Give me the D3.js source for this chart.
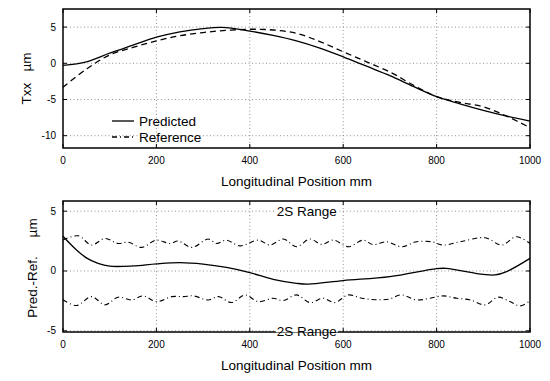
<!DOCTYPE html>
<html>
<head>
<meta charset="utf-8">
<script src="https://cdn.jsdelivr.net/npm/d3@7"></script>
<style>
  body { margin: 0; background: #fff; }
  text { font-family: "Liberation Sans", Arial, Helvetica, sans-serif; fill: #000; }
</style>
</head>
<body>
<div id="chart"></div>
<script>
// x positions (mm) and values
var xTicks = [0, 200, 400, 600, 800, 1000];
var topYTicks = [5, 0, -5, -10];
var botYTicks = [5, 0, -5];

var predX = [0, 50, 100, 150, 200, 250, 300, 340, 400, 450, 500, 550, 600, 650, 700, 750, 800, 850, 900, 950, 1000];
var predY = [-0.3, 0.2, 1.4, 2.5, 3.6, 4.35, 4.8, 4.95, 4.45, 3.85, 3.1, 2.1, 0.9, -0.4, -1.7, -3.2, -4.6, -5.6, -6.5, -7.3, -8.0];

var refX = [0, 50, 100, 150, 200, 250, 300, 350, 400, 450, 500, 550, 600, 650, 700, 750, 800, 850, 900, 950, 1000];
var refY = [-3.3, -0.8, 1.15, 2.2, 3.1, 3.8, 4.25, 4.55, 4.7, 4.6, 4.15, 3.0, 1.6, 0.2, -1.2, -3.0, -4.6, -5.4, -6.0, -7.3, -8.9];

var diffX = [0, 25, 50, 75, 100, 150, 200, 250, 300, 350, 400, 450, 500, 525, 600, 700, 800, 820, 900, 925, 950, 1000];
var diffY = [2.9, 1.9, 1.1, 0.64, 0.4, 0.42, 0.6, 0.7, 0.58, 0.3, -0.13, -0.7, -1.03, -1.1, -0.8, -0.47, 0.2, 0.22, -0.28, -0.33, -0.05, 1.05];

var upX = [0, 33, 61, 90, 118, 140, 168, 200, 229, 247, 276, 311, 329, 350, 379, 418, 443, 472, 500, 529, 554, 579, 611, 643, 664, 693, 725, 757, 790, 814, 850, 904, 939, 971, 1000];
var upY = [2.6, 2.94, 2.17, 2.72, 2.3, 2.4, 1.97, 2.58, 2.3, 2.5, 1.97, 2.67, 2.3, 2.58, 2.1, 2.58, 2.17, 2.67, 2.03, 2.67, 2.22, 2.58, 2.03, 2.58, 2.2, 2.44, 2.03, 2.44, 2.44, 2.17, 2.44, 2.78, 2.17, 2.86, 2.3];

var lowX = [0, 29, 61, 90, 118, 147, 172, 200, 233, 258, 279, 311, 333, 361, 390, 418, 450, 472, 500, 529, 557, 582, 611, 640, 668, 697, 725, 757, 786, 814, 843, 872, 904, 932, 957, 979, 1000];
var lowY = [-2.4, -2.89, -2.14, -2.83, -2.19, -2.42, -2.08, -2.56, -2.14, -2.14, -2.08, -2.42, -2.14, -2.64, -2.0, -2.56, -2.28, -2.47, -2.0, -2.64, -2.28, -2.64, -2.0, -2.28, -2.4, -2.36, -2.0, -2.42, -2.28, -2.08, -2.28, -2.42, -2.83, -2.19, -2.56, -2.92, -2.5];

var legendNames = ['Predicted', 'Reference'];

var width = 550, height = 381;
var svg = d3.select('#chart').append('svg')
  .attr('width', width).attr('height', height);

var x = d3.scaleLinear().domain([0, 1000]).range([63, 530]);

function zip(xs, ys) {
  return xs.map(function(v, i) { return [v, ys[i]]; });
}

// draws one panel frame with grid, ticks and labels, returns the y scale
function drawPanel(top, bottom, domain, yTicks) {
  var y = d3.scaleLinear().domain(domain).range([bottom, top]);
  var g = svg.append('g');

  // dotted grid
  g.selectAll('.vgrid').data(xTicks.slice(1, -1)).enter().append('line')
    .attr('x1', function(d) { return x(d); }).attr('x2', function(d) { return x(d); })
    .attr('y1', top).attr('y2', bottom)
    .attr('stroke', '#777').attr('stroke-width', 0.8).attr('stroke-dasharray', '1,2.5');
  g.selectAll('.hgrid').data(yTicks).enter().append('line')
    .attr('x1', x(0)).attr('x2', x(1000))
    .attr('y1', function(d) { return y(d); }).attr('y2', function(d) { return y(d); })
    .attr('stroke', '#777').attr('stroke-width', 0.8).attr('stroke-dasharray', '1,2.5');

  // inward ticks on all four sides
  var tl = 4;
  g.selectAll('.xtb').data(xTicks).enter().append('line')
    .attr('x1', function(d) { return x(d); }).attr('x2', function(d) { return x(d); })
    .attr('y1', bottom).attr('y2', bottom - tl).attr('stroke', '#000');
  g.selectAll('.xtt').data(xTicks).enter().append('line')
    .attr('x1', function(d) { return x(d); }).attr('x2', function(d) { return x(d); })
    .attr('y1', top).attr('y2', top + tl).attr('stroke', '#000');
  g.selectAll('.ytl').data(yTicks).enter().append('line')
    .attr('x1', x(0)).attr('x2', x(0) + tl)
    .attr('y1', function(d) { return y(d); }).attr('y2', function(d) { return y(d); }).attr('stroke', '#000');
  g.selectAll('.ytr').data(yTicks).enter().append('line')
    .attr('x1', x(1000)).attr('x2', x(1000) - tl)
    .attr('y1', function(d) { return y(d); }).attr('y2', function(d) { return y(d); }).attr('stroke', '#000');

  g.append('rect')
    .attr('x', x(0)).attr('y', top)
    .attr('width', x(1000) - x(0)).attr('height', bottom - top)
    .attr('fill', 'none').attr('stroke', '#000').attr('stroke-width', 1.5);

  // tick labels
  g.selectAll('.xl').data(xTicks).enter().append('text')
    .attr('x', function(d) { return x(d); }).attr('y', bottom + 16)
    .attr('text-anchor', 'middle').attr('font-size', 10)
    .text(function(d) { return d; });
  g.selectAll('.yl').data(yTicks).enter().append('text')
    .attr('x', x(0) - 7).attr('y', function(d) { return y(d) + 3.5; })
    .attr('text-anchor', 'end').attr('font-size', 10)
    .text(function(d) { return d; });

  g.append('text')
    .attr('x', (x(0) + x(1000)) / 2).attr('y', bottom + 38)
    .attr('text-anchor', 'middle').attr('font-size', 13.5)
    .text('Longitudinal Position mm');

  return { y: y, g: g };
}

// top panel
var p1 = drawPanel(9, 148, [-11.7, 7.5], topYTicks);
p1.g.append('text')
  .attr('transform', 'translate(31,' + ((9 + 148) / 2) + ') rotate(-90)')
  .attr('text-anchor', 'middle').attr('font-size', 13.5)
  .style('white-space', 'pre')
  .text('Txx   \u00b5m');

var line1 = d3.line()
  .x(function(d) { return x(d[0]); })
  .y(function(d) { return p1.y(d[1]); })
  .curve(d3.curveCatmullRom);

p1.g.append('path').datum(zip(refX, refY))
  .attr('d', line1).attr('fill', 'none').attr('stroke', '#000')
  .attr('stroke-width', 1.3).attr('stroke-dasharray', '6,4');
p1.g.append('path').datum(zip(predX, predY))
  .attr('d', line1).attr('fill', 'none').attr('stroke', '#000')
  .attr('stroke-width', 1.3);

// legend
var leg = p1.g.selectAll('.leg').data(legendNames).enter().append('g')
  .attr('transform', function(d, i) { return 'translate(112,' + (121 + i * 16) + ')'; });
leg.append('line').attr('x1', 0).attr('x2', 22).attr('y1', 0).attr('y2', 0)
  .attr('stroke', '#000').attr('stroke-width', 1.3)
  .attr('stroke-dasharray', function(d, i) { return i ? '5,3,1,3' : null; });
leg.append('text').attr('x', 27).attr('y', 5).attr('font-size', 13.5)
  .text(function(d) { return d; });

// bottom panel
var p2 = drawPanel(201, 332, [-5.1, 5.85], botYTicks);
p2.g.append('text')
  .attr('transform', 'translate(37,' + 268 + ') rotate(-90)')
  .attr('text-anchor', 'middle').attr('font-size', 13.5)
  .style('white-space', 'pre')
  .text('Pred.-Ref.     \u00b5m');

var line2 = d3.line()
  .x(function(d) { return x(d[0]); })
  .y(function(d) { return p2.y(d[1]); })
  .curve(d3.curveCatmullRom);

[zip(upX, upY), zip(lowX, lowY)].forEach(function(band) {
  p2.g.append('path').datum(band)
    .attr('d', line2).attr('fill', 'none').attr('stroke', '#000')
    .attr('stroke-width', 1.1).attr('stroke-dasharray', '5,3,1,3');
});
p2.g.append('path').datum(zip(diffX, diffY))
  .attr('d', line2).attr('fill', 'none').attr('stroke', '#000')
  .attr('stroke-width', 1.3);

// 2S Range labels sit on the +/-5 grid lines with a white strip behind
[5, -5].forEach(function(v) {
  var t = p2.g.append('text')
    .attr('x', x(522)).attr('y', p2.y(v) + 5)
    .attr('text-anchor', 'middle').attr('font-size', 13.5)
    .text('2S Range');
  var b = t.node().getBBox();
  p2.g.insert('rect', function() { return t.node(); })
    .attr('x', b.x - 1).attr('y', p2.y(v) - 1.5).attr('width', b.width + 2).attr('height', 3)
    .attr('fill', '#fff');
});
</script>
</body>
</html>
